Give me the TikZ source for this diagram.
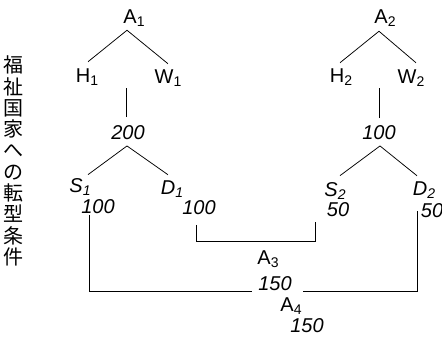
\documentclass[tikz,border=0pt]{standalone}
\usepackage{fontspec}
\setmainfont{Liberation Sans}
\newfontfamily\jpfont{Noto Sans CJK JP}
\newcommand{\lowidx}[1]{\raisebox{-3pt}{\fontsize{14}{14}\selectfont #1}}
\tikzset{
  lab/.style={inner sep=0.5pt, font=\fontsize{20}{24}\selectfont},
  num/.style={inner sep=0.5pt, font=\fontsize{20}{24}\selectfont\itshape}
}

\begin{document}
\begin{tikzpicture}[x=1pt,y=-1pt,line width=0.75pt]
            \useasboundingbox (0,0) rectangle (442,345);
            \node[font=\jpfont\fontsize{20}{21.3}\selectfont, align=center, inner sep=0pt] (title) at (14,161)
                {福\\祉\\国\\家\\へ\\の\\転\\型\\条\\件};

            \node[lab] (A1) at (134,18) {A\lowidx{1}};
            \node[lab] (H1) at (87,77) {H\lowidx{1}};
            \node[lab] (W1) at (168,78) {W\lowidx{1}};
            \node[lab] (A2) at (385,18) {A\lowidx{2}};
            \node[lab] (H2) at (341,77) {H\lowidx{2}};
            \node[lab] (W2) at (411,78) {W\lowidx{2}};
            \node[num] (n200) at (128,133) {200};
            \node[num] (n100) at (379,133) {100};

            \node[num] (S1) at (80,187) {S\lowidx{1}};
            \node[num] (D1) at (172,189) {D\lowidx{1}};
            \node[num] (S2) at (335,191) {S\lowidx{2}};
            \node[num] (D2) at (424,190) {D\lowidx{2}};
            \node[num] (v1) at (98,207) {100};
            \node[num] (v2) at (199,208) {100};
            \node[num] (v3) at (338,210) {50};
            \node[num] (v4) at (432,211) {50};

            \node[lab] (A3) at (268,259) {A\lowidx{3}};
            \node[num] (t3) at (275,284) {150};
            \node[lab] (A4) at (291,306) {A\lowidx{4}};
            \node[num] (t4) at (307,326) {150};

            \draw ([shift={(-7,3)}]A1.south) -- ([shift={(1,-6)}]H1.north);
            \draw ([shift={(-7,3)}]A1.south) -- ([shift={(0,-5)}]W1.north);
            \draw ([shift={(-6,4)}]A2.south) -- ([shift={(-1,-5)}]H2.north);
            \draw ([shift={(-6,4)}]A2.south) -- ([shift={(5,-6)}]W2.north);
            \draw (n200.north) ++(-2,-8) -- ++(0,-29);
            \draw (n100.north) ++(0,-7) -- ++(0,-30);

            \draw ([shift={(-1,5)}]n200.south) -- ([shift={(8,-3)}]S1.north);
            \draw ([shift={(-1,5)}]n200.south) -- ([shift={(-4,-5)}]D1.north);
            \draw ([shift={(1,5)}]n100.south) -- ([shift={(5,-6)}]S2.north);
            \draw ([shift={(1,5)}]n100.south) -- ([shift={(-7,-5)}]D2.north);

            \draw ([shift={(-9,0)}]v1.south) |- ([shift={(-23,7)}]t3.center);
            \draw ([shift={(28,7)}]t3.center) -| ([xshift=-15pt]v4.center);
            \draw ([shift={(-3,9)}]v2.south) -- ++(0,16) -| ([shift={(-23,4)}]v3.south);

        \end{tikzpicture}
\end{document}
